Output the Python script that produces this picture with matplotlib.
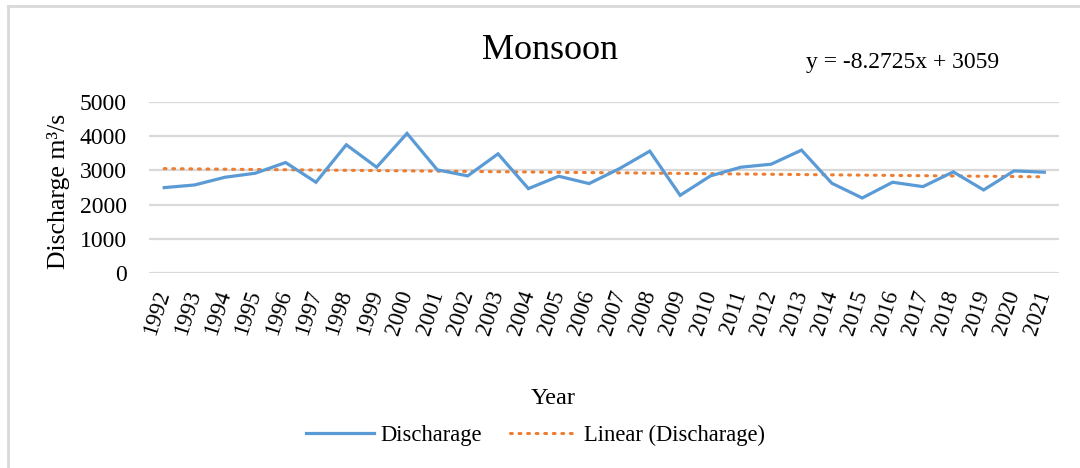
"""Monsoon discharge 1992-2021 with linear trend line (Excel-style chart)."""

import matplotlib

matplotlib.use("Agg")

import matplotlib.pyplot as plt
import numpy as np
from matplotlib.lines import Line2D
from matplotlib.transforms import ScaledTranslation

plt.rcParams["font.family"] = ["Liberation Serif", "DejaVu Serif"]

YEARS = list(range(1992, 2022))
DISCHARGE = [
    2495, 2573, 2798, 2916, 3229, 2652, 3748, 3092, 4080, 3014,
    2838, 3483, 2466, 2828, 2613, 3050, 3562, 2270, 2838, 3092,
    3180, 3591, 2622, 2192, 2652, 2524, 2955, 2427, 2984, 2945,
]
TREND_SLOPE = -8.2725
TREND_INTERCEPT = 3059
Y_TICKS = [0, 1000, 2000, 3000, 4000, 5000]

BLUE = "#5b9bd5"
ORANGE = "#ed7d31"
GRID = "#d9d9d9"

fig = plt.figure(figsize=(10.8, 4.68), dpi=100)
ax = fig.add_axes([0.138, 0.4167, 0.843, 0.3655])

x = np.arange(len(YEARS))
trend = TREND_SLOPE * (x + 1) + TREND_INTERCEPT

ax.plot(x, DISCHARGE, color=BLUE, linewidth=2.3, label="Discharage",
        solid_joinstyle="miter", zorder=3)
ax.plot(x, trend, color=ORANGE, linewidth=2.2, linestyle=(0, (0.6, 2.2)),
        dash_capstyle="round", label="Linear (Discharage)", zorder=2)

ax.set_xlim(-0.5, len(YEARS) - 0.5)
ax.set_ylim(0, 5000)
ax.set_yticks(Y_TICKS)
ax.set_yticklabels([str(v) for v in Y_TICKS], fontsize=17)
ax.set_xticks(x)
ax.set_xticklabels([str(y) for y in YEARS], fontsize=16.5, rotation=72,
                   ha="right", va="center", rotation_mode="anchor")
offset = ScaledTranslation(8 / 72, 0, fig.dpi_scale_trans)
for lbl in ax.get_xticklabels():
    lbl.set_transform(lbl.get_transform() + offset)
ax.tick_params(axis="both", length=0)
ax.tick_params(axis="x", pad=13)
ax.tick_params(axis="y", pad=16)
ax.grid(axis="y", color=GRID, linewidth=1.6)
ax.set_axisbelow(True)
for side in ax.spines.values():
    side.set_visible(False)

fig.text(0.509, 0.893, "Monsoon", ha="center", va="center", fontsize=26)
fig.text(0.836, 0.866, "y = -8.2725x + 3059", ha="center", va="center",
         fontsize=17)
fig.text(0.054, 0.59, "Discharge m\u00b3/s", rotation=90, ha="center",
         va="center", fontsize=18.5)
fig.text(0.512, 0.148, "Year", ha="center", va="center", fontsize=17.5)

fig.legend(loc="center", bbox_to_anchor=(0.496, 0.07), ncol=2, frameon=False,
           fontsize=16.3, handlelength=3.0, columnspacing=1.2,
           handletextpad=0.3)

# light chart-area border (left and top edges visible)
fig.add_artist(Line2D([0.0074, 0.0074], [0, 0.987], color=GRID,
                      linewidth=2, transform=fig.transFigure))
fig.add_artist(Line2D([0.0074, 1.0], [0.987, 0.987], color=GRID,
                      linewidth=2, transform=fig.transFigure))

fig.savefig("out.png", dpi=100)
